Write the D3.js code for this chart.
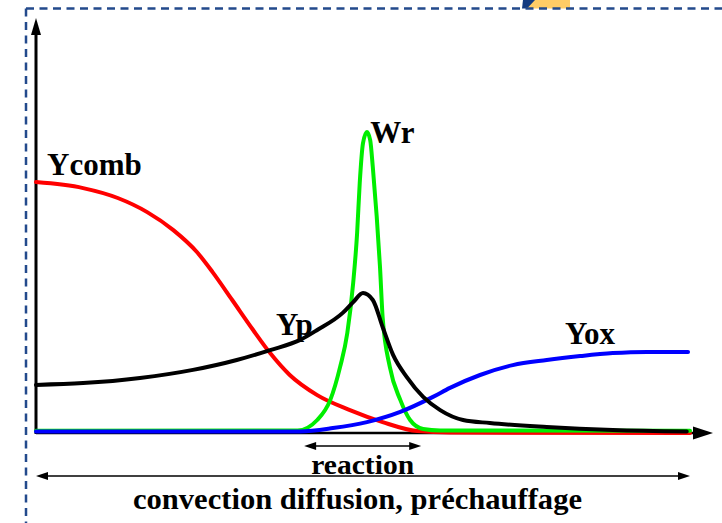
<!DOCTYPE html>
<html>
<head>
<meta charset="utf-8">
<script src="https://cdn.jsdelivr.net/npm/d3@7"></script>
<style>
  html, body { margin: 0; padding: 0; background: #ffffff; }
  svg { display: block; }
</style>
</head>
<body>
<script>
// Flame structure profiles across the flame front (position in %, normalised value)
const ycomb = [[0,0.833],[7.2,0.813],[12.5,0.78],[17,0.733],[21,0.673],[24.6,0.6],[27,0.533],
  [30,0.44],[33.2,0.34],[35.8,0.263],[38.8,0.19],[43,0.123],[48,0.073],[53,0.033],
  [58.3,0.003],[63.3,-0.002],[100,-0.003]];
const yp = [[0,0.157],[7.2,0.163],[15.9,0.18],[24,0.207],[30.7,0.24],[35.8,0.273],[40.4,0.307],
  [43,0.34],[46.9,0.397],[48.5,0.433],[50,0.463],[51.5,0.44],[53,0.35],[54.6,0.257],
  [56.7,0.183],[59.2,0.117],[61.8,0.073],[65.3,0.04],[69.4,0.03],[78.1,0.017],[88.2,0.007],[99.5,0.002]];
const wr = [[0,0.004],[40,0.005],[43,0.04],[45,0.107],[46.5,0.217],[47.6,0.33],[48.5,0.497],
  [49.1,0.663],[49.5,0.83],[50,0.963],[50.6,1.0],[51.1,0.973],[51.5,0.883],[52.1,0.717],
  [52.6,0.55],[53,0.383],[54.1,0.217],[55.7,0.107],[57.2,0.04],[59.2,0.01],[61.8,0.005],[100,0.004]];
const yox = [[0,0.002],[40.4,0.002],[45.4,0.013],[50.6,0.033],[55.7,0.067],[60.7,0.117],
  [63.3,0.147],[67.9,0.19],[72.9,0.223],[78.1,0.24],[83.2,0.253],[88.2,0.263],[93.4,0.267],[99.7,0.267]];

const seriesNames = ["Ycomb", "Wr", "Yox", "Yp"];
const seriesColors = ["#ff0000", "#00ee00", "#0000ff", "#000000"];
const seriesData = [ycomb, wr, yox, yp];

// Label anchors in data units (x %, value)
const labelX = [1.7, 51.1, 80.9, 36.7];
const labelY = [0.857, 0.963, 0.293, 0.323];

// Zone spans along the x axis
const zoneNames = ["reaction", "convection diffusion, préchauffage"];
const zoneStart = [41, 0];
const zoneEnd = [58.9, 100];

const FONT = "'Liberation Serif', 'Times New Roman', Tinos, 'DejaVu Serif', serif";
const W = 722, H = 523;
const x = d3.scaleLinear().domain([0, 100]).range([36, 690]);
const y = d3.scaleLinear().domain([0, 1]).range([432, 132]);

const svg = d3.select("body").append("svg").attr("width", W).attr("height", H);

// slide frame: dashed border and corner ornament
svg.append("rect").attr("x", 527).attr("y", 0).attr("width", 43).attr("height", 8.5).attr("fill", "#ffcc66");
svg.append("path").attr("d", "M523,0 L535,0 L527,8.5 L522,8.5 Z").attr("fill", "#123a80");
svg.append("line").attr("x1", 26).attr("x2", W).attr("y1", 8.5).attr("y2", 8.5)
  .attr("stroke", "#234a8c").attr("stroke-width", 2.5).attr("stroke-dasharray", "8,5.5");
svg.append("line").attr("x1", 26).attr("x2", 26).attr("y1", 8.5).attr("y2", H)
  .attr("stroke", "#234a8c").attr("stroke-width", 2.5).attr("stroke-dasharray", "8,5.5");

function arrowHead(g, tipX, tipY, dir, len, half) {
  let pts;
  if (dir === "r") pts = [[tipX, tipY], [tipX - len, tipY - half], [tipX - len, tipY + half]];
  else if (dir === "l") pts = [[tipX, tipY], [tipX + len, tipY - half], [tipX + len, tipY + half]];
  else pts = [[tipX, tipY], [tipX - half, tipY + len], [tipX + half, tipY + len]];
  g.append("path").attr("d", "M" + pts.map(p => p.join(",")).join("L") + "Z").attr("fill", "#000");
}

// axes
const axes = svg.append("g");
const x0 = x(0), yBase = y(0);
axes.append("line").attr("x1", x0).attr("x2", 700).attr("y1", yBase + 1).attr("y2", yBase + 1)
  .attr("stroke", "#000").attr("stroke-width", 2.5);
arrowHead(axes, 713, yBase + 1, "r", 20, 6.5);
axes.append("line").attr("x1", x0).attr("x2", x0).attr("y1", yBase + 2).attr("y2", 30)
  .attr("stroke", "#000").attr("stroke-width", 3);
arrowHead(axes, x0, 18, "u", 17, 5);

// profiles
const line = d3.line().x(d => x(d[0])).y(d => y(d[1])).curve(d3.curveMonotoneX);
seriesData.forEach((data, i) => {
  svg.append("path")
    .datum(data)
    .attr("d", line)
    .attr("fill", "none")
    .attr("stroke", seriesColors[i])
    .attr("stroke-width", 4)
    .attr("stroke-linejoin", "round")
    .attr("stroke-linecap", "round");
});

// series labels
seriesNames.forEach((name, i) => {
  svg.append("text")
    .attr("x", x(labelX[i])).attr("y", y(labelY[i]))
    .attr("font-family", FONT)
    .attr("font-weight", "bold")
    .attr("font-size", 31)
    .text(name);
});

// zone spans with double arrows
const zoneY = [446, 476];
const zoneTextY = [474, 509];
const zoneFont = [27, 30];
const zoneWidth = [103, 449];
zoneNames.forEach((name, i) => {
  const g = svg.append("g");
  const xa = x(zoneStart[i]), xb = x(zoneEnd[i]);
  g.append("line").attr("x1", xa + 6).attr("x2", xb - 6).attr("y1", zoneY[i]).attr("y2", zoneY[i])
    .attr("stroke", "#000").attr("stroke-width", 1.5);
  arrowHead(g, xa, zoneY[i], "l", 12, 4);
  arrowHead(g, xb, zoneY[i], "r", 12, 4);
  const cx = i === 0 ? (xa + xb) / 2 : 357.5;
  g.append("text")
    .attr("x", cx).attr("y", zoneTextY[i])
    .attr("text-anchor", "middle")
    .attr("font-family", FONT)
    .attr("font-weight", "bold")
    .attr("font-size", zoneFont[i])
    .attr("textLength", zoneWidth[i])
    .attr("lengthAdjust", "spacingAndGlyphs")
    .text(name);
});
</script>
</body>
</html>
